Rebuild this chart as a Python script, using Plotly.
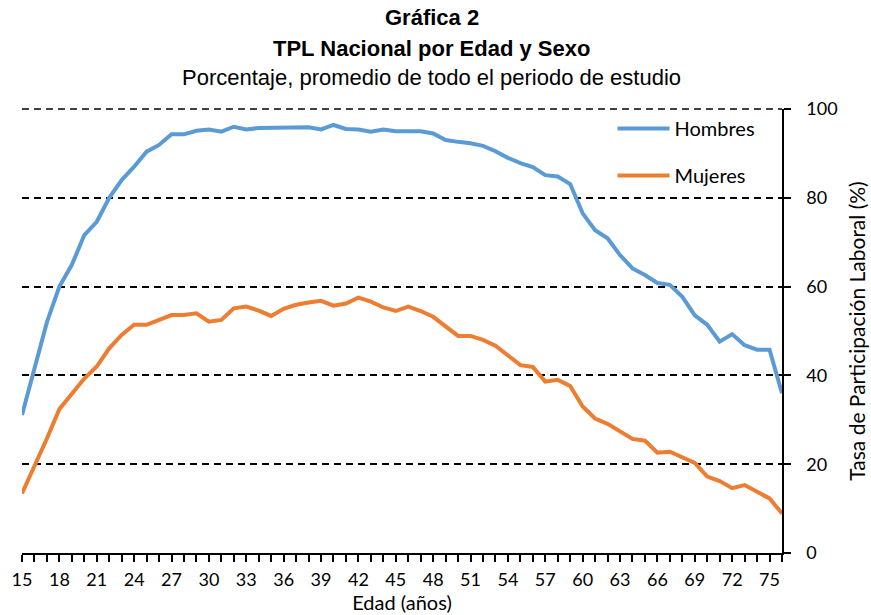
import plotly.graph_objects as go

ages = list(range(15, 77))
hombres = [31.1, 41.2, 52.0, 60.0, 64.9, 71.6, 74.6, 80.0, 84.0, 87.0,
           90.4, 91.9, 94.3, 94.3, 95.1, 95.4, 94.9, 96.0, 95.4, 95.7,
           95.8, 95.9, 95.9, 95.9, 95.4, 96.4, 95.5, 95.4, 94.9, 95.4,
           95.0, 95.0, 95.0, 94.5, 93.0, 92.6, 92.3, 91.7, 90.5, 89.0,
           87.8, 86.9, 85.1, 84.8, 83.1, 76.5, 72.7, 70.9, 67.1, 64.1,
           62.6, 60.8, 60.4, 57.7, 53.5, 51.4, 47.6, 49.3, 46.8, 45.8,
           45.8, 36.0]
mujeres = [13.4, 19.4, 25.8, 32.4, 36.0, 39.3, 42.0, 46.1, 49.1, 51.4,
           51.4, 52.6, 53.6, 53.6, 54.0, 52.1, 52.5, 55.1, 55.5, 54.6,
           53.4, 55.0, 55.9, 56.4, 56.8, 55.7, 56.2, 57.5, 56.6, 55.3,
           54.5, 55.5, 54.5, 53.2, 51.1, 48.9, 48.9, 48.0, 46.7, 44.4,
           42.3, 41.9, 38.6, 39.0, 37.6, 33.0, 30.3, 29.1, 27.3, 25.7,
           25.3, 22.6, 22.8, 21.5, 20.3, 17.2, 16.2, 14.6, 15.3, 13.8,
           12.3, 8.9]

title_lines = ["<b>Gráfica 2</b>", "<b>TPL Nacional por Edad y Sexo</b>",
               "Porcentaje, promedio de todo el periodo de estudio"]
title_y = [1.205, 1.137, 1.072]
y_max = 100

fig = go.Figure()
fig.add_trace(go.Scatter(x=ages, y=hombres, mode="lines", name="Hombres",
                         line=dict(color="#5B9BD5", width=4), legendgroup="h"))
fig.add_trace(go.Scatter(x=ages, y=mujeres, mode="lines", name="Mujeres",
                         line=dict(color="#ED7D31", width=4), legendgroup="m"))

tick_font = dict(family="Lato, Liberation Sans, sans-serif", size=18, color="#000")
big_font = dict(family="Lato, Liberation Sans, sans-serif", size=20, color="#000")
title_font = dict(family="Liberation Sans, Arial, sans-serif", size=22, color="#000")

for txt, yy in zip(title_lines, title_y):
    fig.add_annotation(text=txt, x=0.539, xref="paper", xanchor="center",
                       y=yy, yref="paper", yanchor="middle",
                       showarrow=False, font=title_font)

# top gridline (plotly hides the gridline at the range edge)
fig.add_shape(type="line", xref="paper", x0=0, x1=1, yref="paper", y0=1, y1=1,
              line=dict(color="#000", width=1.5, dash="7px,5px"), layer="below")

fig.update_layout(
    width=871, height=615,
    margin=dict(l=22, r=89, t=109, b=62),
    paper_bgcolor="white", plot_bgcolor="white",
    font=tick_font,
    showlegend=True,
    legend=dict(x=0.777, y=1.0, xanchor="left", yanchor="top",
                bgcolor="rgba(0,0,0,0)", font=dict(family="Lato, Liberation Sans, sans-serif", size=20, color="#000"),
                tracegroupgap=18, traceorder="grouped", itemwidth=52),
    xaxis=dict(range=[15, 76], tickmode="linear", tick0=15, dtick=3,
               showline=True, linecolor="#000", linewidth=1.5,
               ticks="outside", ticklen=7, tickwidth=1.5, tickcolor="#000",
               minor=dict(dtick=1, ticks="outside", ticklen=7, tickwidth=1.5, tickcolor="#000"),
               showgrid=False, zeroline=False, ticklabelstandoff=3, automargin=False,
               title=dict(text="Edad (años)", standoff=4, font=big_font),
               tickfont=tick_font),
    yaxis=dict(range=[0, y_max], side="right", tickmode="linear", tick0=0, dtick=20,
               showline=True, linecolor="#000", linewidth=1.5,
               ticks="outside", ticklen=7, tickwidth=1.5, tickcolor="#000",
               showgrid=True, gridcolor="#000", gridwidth=1.5, griddash="7px,5px",
               zeroline=False, ticklabelstandoff=12, automargin=False,
               title=dict(text="Tasa de Participación Laboral (%)", standoff=14, font=dict(family="Lato, Liberation Sans, sans-serif", size=21, color="#000")),
               tickfont=tick_font),
)

fig.write_html("out.html", config={"displayModeBar": False},
               post_script="document.body.style.margin='0';")
